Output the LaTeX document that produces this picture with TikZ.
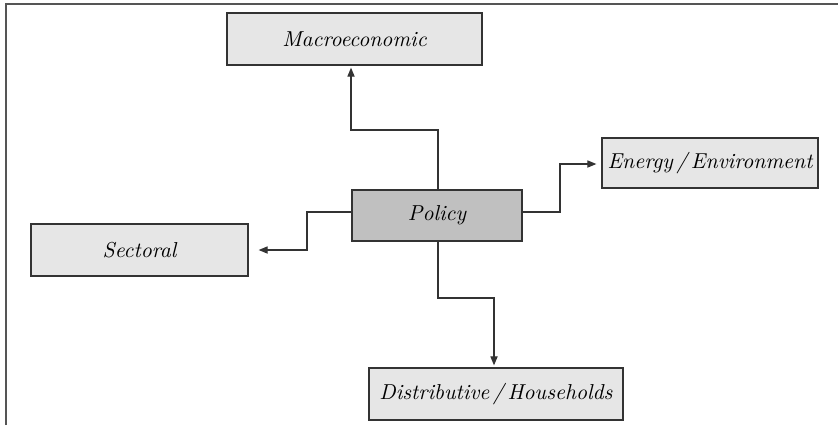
\documentclass[tikz,border=0pt]{standalone}
\usetikzlibrary{arrows.meta}
\definecolor{lightbox}{HTML}{E6E6E6}
\definecolor{darkbox}{HTML}{C0C0C0}
\definecolor{edgecol}{HTML}{333333}
\definecolor{framecol}{HTML}{555555}
\begin{document}
\begin{tikzpicture}[x=0.5pt,y=-0.5pt,
  boxnode/.style={draw=edgecol, line width=0.65pt, fill=lightbox, inner sep=0pt,
    font=\fontsize{10.8}{12}\selectfont\itshape},
  policynode/.style={boxnode, fill=darkbox},
  conn/.style={draw=edgecol, line width=0.55pt, -{Triangle[length=4.5pt,width=3.6pt]}},
]
\useasboundingbox (0,0) rectangle (838,425);
% frame
\draw[framecol, line width=1pt] (6,425) -- (6,4) -- (838,4);
% nodes
\node[boxnode, minimum width=127.5pt, minimum height=26pt] (macro) at (354.5,39) {Macroeconomic};
\node[boxnode, minimum width=108.5pt, minimum height=26pt] (sectoral) at (139.5,250) {Sectoral};
\node[boxnode, minimum width=108pt, minimum height=25pt] (energy) at (710,163) {Energy\,/\,Environment};
\node[policynode, minimum width=85pt, minimum height=25.5pt] (policy) at (437,215.5) {Policy};
\node[boxnode, minimum width=127pt, minimum height=26pt] (distrib) at (496,394) {Distributive\,/\,Households};
% connector coordinates
\coordinate (m1) at (438,130);
\coordinate (m2) at (351,130);
\coordinate (s1) at (307,212);
\coordinate (s2) at (307,250);
\coordinate (e1) at (560,212);
\coordinate (e2) at (560,164);
\coordinate (d1) at (438,298);
\coordinate (d2) at (494,298);
% connectors
\draw[conn, shorten >=1pt] (policy.north -| m1) -- (m1) -- (m2) -- (macro.south -| m2);
\draw[conn, shorten >=5pt] (policy.west |- s1) -- (s1) -- (s2) -- (sectoral.east |- s2);
\draw[conn, shorten >=2.5pt] (policy.east |- e1) -- (e1) -- (e2) -- (energy.west |- e2);
\draw[conn, shorten >=1pt] (policy.south -| d1) -- (d1) -- (d2) -- (distrib.north -| d2);
\end{tikzpicture}
\end{document}
